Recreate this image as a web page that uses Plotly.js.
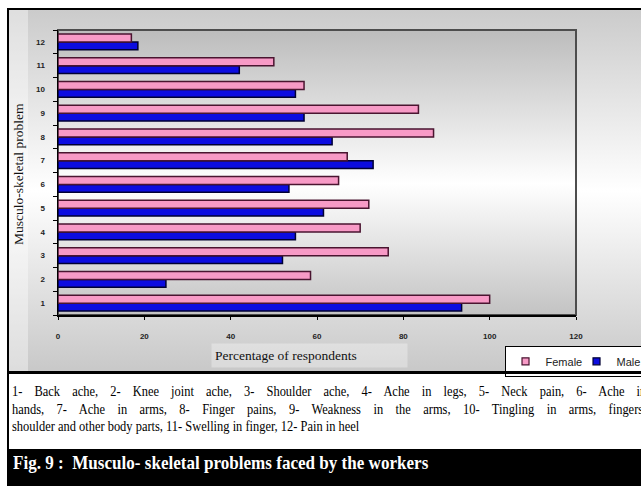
<!DOCTYPE html>
<html>
<head>
<meta charset="utf-8">
<script src="https://cdn.plot.ly/plotly-3.0.1.min.js"></script>
<style>
  html, body { margin: 0; padding: 0; width: 641px; height: 486px; overflow: hidden; background: #fff; }
  .abs { position: absolute; }
  #chartbg { left: 9px; top: 10px; width: 700px; height: 362px;
    background: linear-gradient(to bottom, #cbcbcb 0%, #ffffff 50%, #c8c8c8 100%); }
  #plotbg { left: 58px; top: 30px; width: 518px; height: 285px;
    background: linear-gradient(to bottom, #bcbcbc 0%, #ffffff 54%, #c3c3c3 100%); }
  #ystrip { left: 9px; top: 10px; width: 19px; height: 362px; background: rgba(255,255,255,0.38); }
  #chart { left: 0; top: 0; width: 700px; height: 486px; }
  #rule { left: 9px; top: 371px; width: 700px; height: 3px; background: #000; }
  #caption { left: 12px; top: 383px; width: 729px; font-family: "Liberation Serif", "Times New Roman", serif;
    font-size: 14.3px; line-height: 17.5px; color: #000; transform: scaleX(0.87); transform-origin: 0 0; }
  #caption .j { text-align: justify; text-align-last: justify; white-space: nowrap; }
  #caption .l { text-align: left; white-space: nowrap; }
  #band { left: 9px; top: 449px; width: 700px; height: 40px; background: #000; }
  #figtitle { left: 13px; top: 452px; font-family: "Liberation Serif", "Times New Roman", serif;
    font-weight: bold; font-size: 19.5px; color: #fff; white-space: nowrap;
    transform: scaleX(0.875); transform-origin: 0 0; }
  #frame { left: 7px; top: 8px; width: 720px; height: 540px; border: 2px solid #000; box-sizing: border-box; }
</style>
</head>
<body>
<div id="chartbg" class="abs"></div>
<div id="plotbg" class="abs"></div>
<div id="ystrip" class="abs"></div>
<div id="chart" class="abs"></div>
<div id="rule" class="abs"></div>
<div id="caption" class="abs">
  <div class="j">1- Back ache, 2- Knee joint ache, 3- Shoulder ache, 4- Ache in legs, 5- Neck pain, 6- Ache in</div>
  <div class="j">hands, 7- Ache in arms, 8- Finger pains, 9- Weakness in the arms, 10- Tingling in arms, fingers,</div>
  <div class="l">shoulder and other body parts, 11- Swelling in finger, 12- Pain in heel</div>
</div>
<div id="band" class="abs"></div>
<div id="figtitle" class="abs">Fig. 9 :&nbsp; Musculo- skeletal problems faced by the workers</div>
<div id="frame" class="abs"></div>
<script>
// Problem codes 1..12 (see caption for names)
const problems = ["1", "2", "3", "4", "5", "6", "7", "8", "9", "10", "11", "12"];
// Percentage of respondents reporting each problem
const female = [100, 58.5, 76.5, 70, 72, 65, 67, 87, 83.5, 57, 50, 17];
const male = [93.5, 25, 52, 55, 61.5, 53.5, 73, 63.5, 57, 55, 42, 18.5];
const xTicks = [0, 20, 40, 60, 80, 100, 120];

const pink = "#f79ac6", pinkEdge = "#4a1530";
const blue = "#0c0ce0", blueEdge = "#000033";

const data = [
  { type: "bar", orientation: "h", name: "Male", y: problems, x: male,
    marker: { color: blue, line: { color: blueEdge, width: 1.5 } }, showlegend: false },
  { type: "bar", orientation: "h", name: "Female", y: problems, x: female,
    marker: { color: pink, line: { color: pinkEdge, width: 1.5 } }, showlegend: false },
  // legend keys
  { type: "scatter", mode: "markers", name: "Female", x: [null], y: [null],
    marker: { symbol: "square", size: 7, color: pink, line: { color: pinkEdge, width: 1.2 } } },
  { type: "scatter", mode: "markers", name: "Male", x: [null], y: [null],
    marker: { symbol: "square", size: 7, color: blue, line: { color: blueEdge, width: 1.2 } } }
];

const tickFont = { family: "Liberation Sans, Arial, sans-serif", size: 8, color: "#222", weight: "bold" };
const serif = "Liberation Serif, Times New Roman, serif";

const layout = {
  width: 700, height: 486,
  margin: { l: 58, r: 124, t: 30, b: 171, pad: 0 },
  paper_bgcolor: "rgba(0,0,0,0)", plot_bgcolor: "rgba(0,0,0,0)",
  barmode: "group", bargap: 0.33, bargroupgap: 0,
  showlegend: true,
  legend: { orientation: "h", x: 0.862, y: -0.108, xanchor: "left", yanchor: "top",
    bgcolor: "#ffffff", bordercolor: "#000", borderwidth: 1,
    font: { family: "Liberation Sans, Arial, sans-serif", size: 11, color: "#222" },
    itemwidth: 30, entrywidth: 26, entrywidthmode: "pixels", traceorder: "normal" },
  xaxis: { range: [0, 120], tickvals: xTicks, ticktext: xTicks.map(String),
    showgrid: false, zeroline: false, showline: true, linecolor: "#000", linewidth: 1.5,
    ticks: "outside", ticklen: 3, tickcolor: "#000", tickfont: tickFont, ticklabelstandoff: 10,
    fixedrange: true },
  yaxis: { type: "category", categoryorder: "array", categoryarray: problems,
    range: [-0.5, 11.5], showgrid: false, zeroline: false, showline: true,
    linecolor: "#000", linewidth: 1.5, ticks: "outside", ticklen: 4, tickcolor: "#000",
    tickson: "boundaries", tickfont: tickFont, ticklabelstandoff: 10, fixedrange: true },
  shapes: [
    { type: "rect", xref: "paper", yref: "paper", x0: 0, x1: 1, y0: 0, y1: 1,
      line: { color: "#4d4d4d", width: 2 }, fillcolor: "rgba(0,0,0,0)", layer: "below" }
  ],
  annotations: [
    { text: "Percentage of respondents", xref: "paper", yref: "paper",
      x: 0.4855, y: -0.1404, xanchor: "center", yanchor: "middle", showarrow: false,
      width: 189, height: 17, align: "left", borderpad: 3, bgcolor: "rgba(255,255,255,0.32)",
      font: { family: serif, size: 13.5, color: "#111" } },
    { text: "Musculo-skeletal problem", xref: "paper", yref: "paper",
      x: -0.0753, y: 0.495, xanchor: "center", yanchor: "middle", showarrow: false,
      textangle: -90, font: { family: serif, size: 13.5, color: "#111" } }
  ]
};

Plotly.newPlot("chart", data, layout, { displayModeBar: false, staticPlot: true });
</script>
</body>
</html>
